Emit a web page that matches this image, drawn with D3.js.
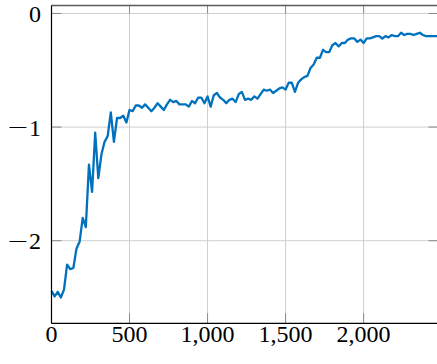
<!DOCTYPE html>
<html>
<head>
<meta charset="utf-8">
<script src="https://cdn.jsdelivr.net/npm/d3@7/dist/d3.min.js"></script>
<style>
  html, body { margin: 0; padding: 0; background: #fff; }
  svg { display: block; }
</style>
</head>
<body>
<svg id="chart" width="437" height="364"></svg>
<script>
// Training curve: one value every 20 steps
const stepSize = 20;
const values = [
  -2.44, -2.49, -2.45, -2.50, -2.43, -2.21, -2.25, -2.24, -2.07, -2.01,
  -1.80, -1.88, -1.33, -1.57, -1.05, -1.45, -1.24, -1.13, -1.08, -0.87,
  -1.13, -0.92, -0.92, -0.90, -0.96, -0.85, -0.86, -0.81, -0.81, -0.83,
  -0.80, -0.83, -0.86, -0.83, -0.79, -0.82, -0.85, -0.80, -0.76, -0.78,
  -0.77, -0.80, -0.80, -0.80, -0.82, -0.77, -0.79, -0.74, -0.74, -0.79,
  -0.73, -0.82, -0.72, -0.70, -0.74, -0.76, -0.79, -0.76, -0.75, -0.78,
  -0.71, -0.69, -0.76, -0.75, -0.76, -0.73, -0.75, -0.71, -0.67, -0.68,
  -0.67, -0.70, -0.68, -0.66, -0.65, -0.67, -0.61, -0.61, -0.69, -0.61,
  -0.58, -0.56, -0.55, -0.48, -0.45, -0.39, -0.39, -0.32, -0.34, -0.34,
  -0.28, -0.26, -0.29, -0.26, -0.26, -0.23, -0.22, -0.22, -0.25, -0.23,
  -0.26, -0.22, -0.22, -0.21, -0.20, -0.20, -0.22, -0.20, -0.21, -0.19,
  -0.20, -0.20, -0.17, -0.19, -0.18, -0.18, -0.19, -0.18, -0.17, -0.19,
  -0.20, -0.20, -0.20, -0.20, -0.20
];
const steps = values.map((_, i) => i * stepSize);

const xTicks = [0, 500, 1000, 1500, 2000];
const yTicks = [0, -1, -2];
const xDomain = [0, 2480];
const yDomain = [-2.727, 0.07];

const svg = d3.select("#chart");
const plot = { left: 51.5, right: 438.5, top: 5.5, bottom: 323.3 };

const x = d3.scaleLinear().domain(xDomain).range([plot.left, plot.right]);
const y = d3.scaleLinear().domain(yDomain).range([plot.bottom, plot.top]);

const fontFamily = "'Liberation Serif', 'DejaVu Serif', serif";
const fontSize = 24;
const tickLen = 10;

// grid lines
const grid = svg.append("g");
grid.selectAll("line.gx").data(xTicks).join("line")
  .attr("x1", d => x(d)).attr("x2", d => x(d))
  .attr("y1", plot.top).attr("y2", plot.bottom)
  .attr("stroke", "#cfcfcf").attr("stroke-width", 1);
grid.selectAll("line.gy").data(yTicks).join("line")
  .attr("x1", plot.left).attr("x2", plot.right)
  .attr("y1", d => y(d)).attr("y2", d => y(d))
  .attr("stroke", "#cfcfcf").attr("stroke-width", 1);

// inward tick marks on all four sides
const ticks = svg.append("g").attr("stroke", "#8a8a8a").attr("stroke-width", 1);
xTicks.forEach(t => {
  ticks.append("line").attr("x1", x(t)).attr("x2", x(t))
    .attr("y1", plot.bottom).attr("y2", plot.bottom - tickLen);
  ticks.append("line").attr("x1", x(t)).attr("x2", x(t))
    .attr("y1", plot.top).attr("y2", plot.top + tickLen * 0.8);
});
yTicks.forEach(t => {
  ticks.append("line").attr("x1", plot.left).attr("x2", plot.left + tickLen)
    .attr("y1", y(t)).attr("y2", y(t));
  ticks.append("line").attr("x1", plot.right).attr("x2", plot.right - tickLen)
    .attr("y1", y(t)).attr("y2", y(t));
});

// data line
const line = d3.line()
  .x((d, i) => x(steps[i]))
  .y(d => y(d));
svg.append("path")
  .datum(values)
  .attr("d", line)
  .attr("fill", "none")
  .attr("stroke", "#0072BD")
  .attr("stroke-width", 2.3)
  .attr("stroke-linejoin", "round");

// axis frame
svg.append("line").attr("x1", plot.left).attr("x2", plot.right)
  .attr("y1", plot.top).attr("y2", plot.top)
  .attr("stroke", "#5a5a5a").attr("stroke-width", 1.5);
svg.append("line").attr("x1", plot.left).attr("x2", plot.left)
  .attr("y1", plot.top).attr("y2", plot.bottom)
  .attr("stroke", "#000").attr("stroke-width", 1.2);
svg.append("line").attr("x1", plot.left).attr("x2", plot.right)
  .attr("y1", plot.bottom).attr("y2", plot.bottom)
  .attr("stroke", "#000").attr("stroke-width", 1.2);
svg.append("line").attr("x1", plot.right).attr("x2", plot.right)
  .attr("y1", plot.top).attr("y2", plot.bottom)
  .attr("stroke", "#000").attr("stroke-width", 1.2);

// tick labels
const fmtX = d3.format(",");
svg.append("g").selectAll("text").data(xTicks).join("text")
  .attr("x", d => x(d))
  .attr("y", 342)
  .attr("text-anchor", "middle")
  .attr("font-family", fontFamily)
  .attr("font-size", fontSize)
  .attr("fill", "#000")
  .text(d => fmtX(d));

const yLabels = svg.append("g").selectAll("text").data(yTicks).join("text")
  .attr("x", 41)
  .attr("y", d => y(d) + 8.5)
  .attr("text-anchor", "end")
  .attr("font-family", fontFamily)
  .attr("font-size", fontSize)
  .attr("fill", "#000");
yLabels.each(function(d) {
  const t = d3.select(this);
  if (d < 0) {
    // wide, thin math-style minus sign
    t.append("tspan").attr("font-family", "'DejaVu Sans', sans-serif")
      .attr("font-weight", 200)
      .attr("font-size", 27).attr("dy", 0.8).text("\u2212");
    t.append("tspan").attr("dy", -0.8).text(String(Math.abs(d)));
  } else {
    t.text(String(d));
  }
});
</script>
</body>
</html>
